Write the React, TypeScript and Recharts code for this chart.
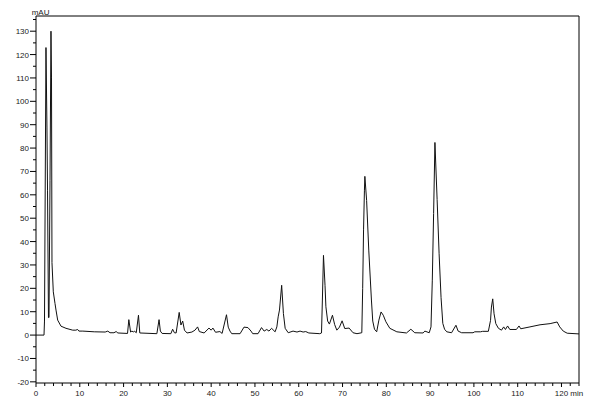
import React from "react";
import { LineChart, Line, XAxis, YAxis, ReferenceLine } from "recharts";

// retention time (min) and absorbance (mAU)
const times = [
  0, 1.83, 1.94, 2.28, 2.5, 2.63, 2.85, 2.97, 3.2, 3.42, 3.54, 3.65, 3.95, 4.34, 4.57, 4.95, 5.71, 6.85,
  8.38, 9.1, 9.5, 9.8, 10.7, 13.3, 15.8, 16.4, 16.9, 17.8, 18.3, 18.7, 20.9, 21.2, 21.6, 21.9, 22.3, 22.5,
  22.9, 23.4, 23.7, 27.6, 28.1, 28.4, 28.8, 30.8, 31.2, 31.6, 32.0, 32.7, 33.1, 33.5, 33.9, 34.5, 35.6,
  36.3, 36.9, 37.3, 38.4, 39.5, 40.0, 40.4, 41.0, 42.0, 42.5, 43.5, 43.9, 44.3, 44.7, 46.6, 47.5, 48.4,
  49.1, 49.5, 50.7, 51.5, 52.1, 52.7, 53.2, 53.8, 54.6, 55.0, 55.3, 55.6, 56.1, 56.5, 56.9, 57.6, 58.7,
  59.6, 60.3, 61.0, 61.6, 62.3, 64.8, 65.2, 65.4, 65.65, 66.0, 66.2, 66.6, 67.0, 67.7, 68.2, 68.7, 69.3,
  69.9, 70.5, 71.5, 72.4, 73.3, 74.4, 74.6, 74.8, 75.0, 75.1, 75.5, 76.0, 76.6, 76.9, 77.3, 77.8, 78.3,
  78.8, 79.3, 79.9, 80.8, 82.4, 84.6, 85.6, 86.5, 88.4, 88.8, 89.8, 90.2, 90.5, 90.8, 91.1, 91.6, 92.05,
  92.5, 92.9, 93.3, 93.8, 94.9, 95.9, 96.4, 97.2, 99.8, 100.2, 101.5, 102.0, 103.3, 103.8, 104.0, 104.3,
  104.6, 105.0, 105.6, 106.3, 106.8, 107.2, 107.7, 108.2, 109.7, 110.3, 110.7, 112.8, 115.1, 117.4, 119.0,
  119.6, 120.4, 121.3, 124,
];
const mAU = [
  0, 0, 6, 123, 89, 62, 7.5, 7.5, 66, 130, 110, 31, 18.5, 13.5, 10.7, 6.4, 3.8, 2.9,
  2.1, 2.1, 2.4, 1.7, 1.7, 1.4, 1.3, 1.7, 1.0, 1.0, 1.5, 0.9, 0.7, 6.6, 1.3, 1.7, 1.3, 1.7,
  1.0, 8.5, 0.9, 0.6, 6.6, 1.7, 0.7, 0.6, 2.5, 1.0, 0.9, 9.7, 4.3, 6.0, 2.1, 0.9, 1.3,
  2.1, 3.5, 1.5, 0.9, 3.0, 2.1, 3.0, 1.2, 1.5, 0.7, 8.7, 3.4, 1.7, 0.6, 0.6, 3.4, 3.2,
  1.7, 0.6, 0.6, 3.2, 1.7, 2.4, 1.7, 2.9, 1.4, 3.5, 7.8, 10.7, 21.3, 9.2, 2.9, 1.0, 1.7,
  1.3, 1.7, 1.3, 1.5, 0.9, 0.6, 0.9, 15, 34.1, 21.3, 12.1, 6.0, 4.7, 8.5, 4.5, 2.1, 3.4,
  6.1, 2.8, 3.0, 1.0, 0.6, 1.0, 20, 45, 62, 67.9, 57.6, 36, 15, 6, 2.5, 1.4, 6.4,
  9.9, 8.5, 5.7, 2.9, 1.4, 0.9, 2.5, 1.0, 0.9, 1.7, 1.0, 3.5, 23.5, 52, 82.4, 58, 35,
  16, 5, 2.5, 1.4, 1.0, 4.2, 1.7, 1.0, 1.0, 1.4, 1.4, 1.6, 1.6, 6.3, 12, 15.5,
  9.1, 4.9, 2.9, 2.1, 3.5, 2.4, 3.9, 2.4, 2.4, 3.9, 2.7, 3.5, 4.4, 4.9, 5.6,
  3.5, 1.7, 0.8, 0.5,
];

const xTicks = Array.from({ length: 63 }, (_, i) => i * 2);
const yTicks = Array.from({ length: 32 }, (_, i) => -20 + i * 5);

const data = times.map((t, i) => ({ t, v: mAU[i] }));

const FONT = "'Liberation Sans', Arial, sans-serif";

const XTick = (props: any) => {
  const { x, y, payload } = props;
  const v = payload.value;
  const major = v % 10 === 0;
  return (
    <g>
      <line x1={x} x2={x} y1={y} y2={y + (major ? 4 : 3)} stroke="#000" />
      {major && (
        <text
          x={v === 120 ? x - 6.7 : x}
          y={y + 12.7}
          fontSize={8}
          fontFamily={FONT}
          fill="#222"
          textAnchor={v === 120 ? "start" : "middle"}
        >
          {v === 120 ? "120 min" : v}
        </text>
      )}
    </g>
  );
};

const YTick = (props: any) => {
  const { x, y, payload } = props;
  const v = payload.value;
  const major = v % 10 === 0;
  return (
    <g>
      <line x1={x - (major ? 6 : 3)} x2={x} y1={y} y2={y} stroke="#000" />
      {major && (
        <text x={x - 7} y={y + 3} fontSize={8} fontFamily={FONT} fill="#222" textAnchor="end">
          {v}
        </text>
      )}
    </g>
  );
};

const unitLabel = (props: any) => {
  const vb = props.viewBox || { x: 0, y: 8 };
  return (
    <text x={vb.x + 23.7} y={vb.y - 1} fontSize={8} fontFamily={FONT} fill="#222">
      mAU
    </text>
  );
};

export default function App() {
  return (
    <LineChart width={592} height={392} data={data} margin={{ top: 8, right: 21, bottom: 0, left: 0 }}>
      <XAxis
        dataKey="t"
        type="number"
        domain={[0, 124]}
        ticks={xTicks}
        interval={0}
        tickSize={0}
        tickMargin={0}
        height={17}
        tick={XTick}
        stroke="#000"
        allowDataOverflow
      />
      <YAxis
        type="number"
        domain={[-20.5, 136.5]}
        ticks={yTicks}
        interval={0}
        tickSize={0}
        tickMargin={0}
        width={28}
        tick={YTick}
        stroke="#000"
        label={unitLabel}
        allowDataOverflow
      />
      <ReferenceLine y={136.5} stroke="#000" />
      <ReferenceLine x={124} stroke="#000" />
      <Line
        type="linear"
        dataKey="v"
        stroke="#111"
        strokeWidth={1}
        dot={false}
        isAnimationActive={false}
      />
    </LineChart>
  );
}
